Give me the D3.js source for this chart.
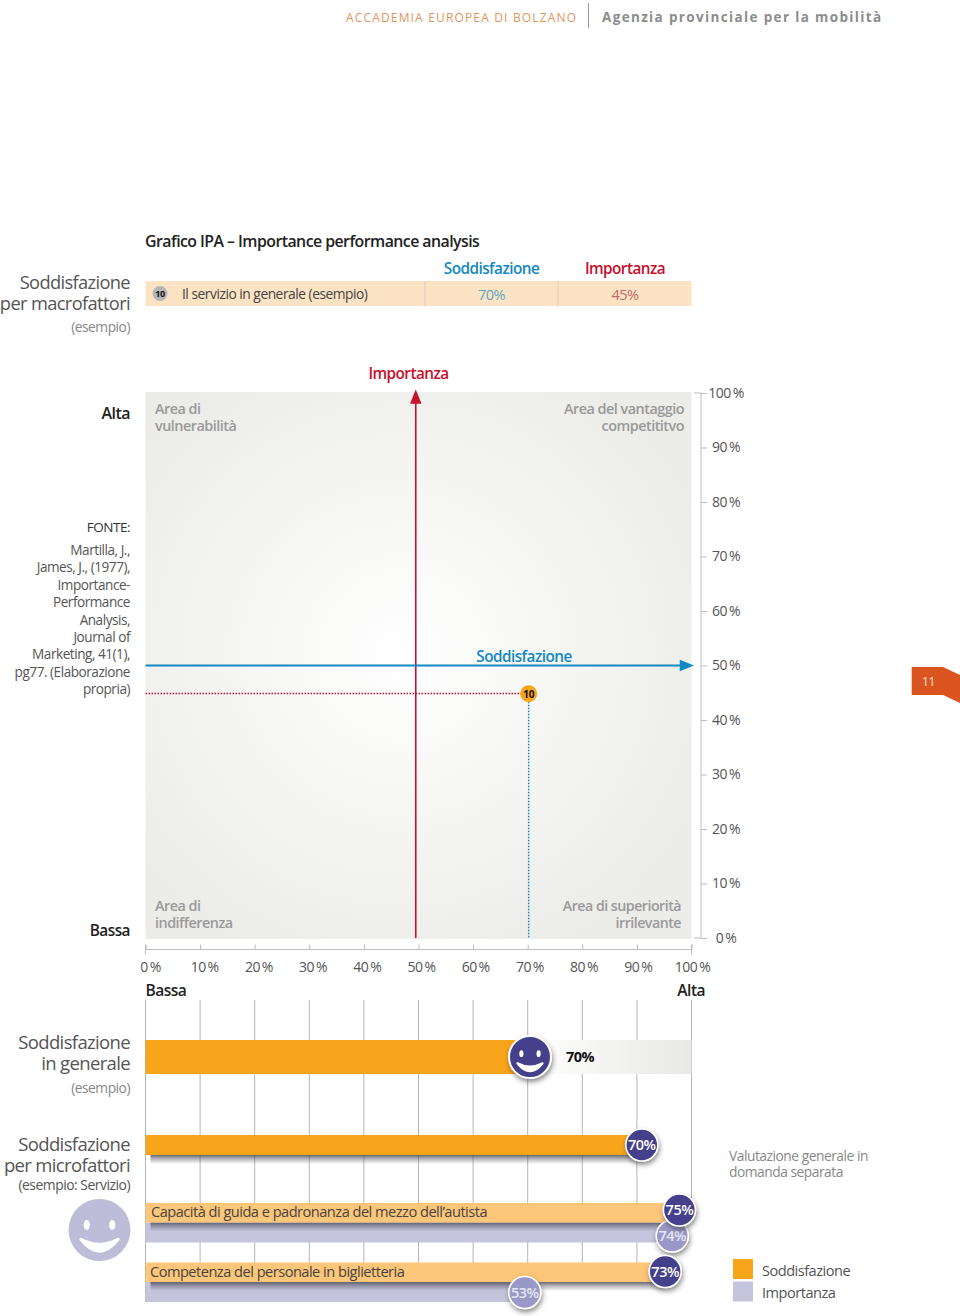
<!DOCTYPE html>
<html>
<head>
<meta charset="utf-8">
<script src="https://cdn.jsdelivr.net/npm/d3@7"></script>
<style>
  body { margin: 0; background: #fff; }
  svg { display: block; }
  text { font-family: "Open Sans", sans-serif; letter-spacing: -0.035em; }
  .axis path, .axis line { stroke: #bdbdbd; }
  .axis text { font-size: 14px; fill: #555; font-family: "Open Sans", sans-serif; }
</style>
</head>
<body>
<script>
// values
var axisTicks = [0, 10, 20, 30, 40, 50, 60, 70, 80, 90, 100];
var factorNames = ["Il servizio in generale (esempio)"];
var factorIds = [10];
var satisfaction = [70];
var importance = [45];
var thresholdSatisfaction = 49.5;
var thresholdImportance = 50;
var overallValue = [70];
var microLabels = ["Capacità di guida e padronanza del mezzo dell’autista", "Competenza del personale in biglietteria"];
var microSatisfaction = [75, 73];
var microImportance = [74, 53];
var separateValue = [70];
var legendNames = ["Soddisfazione", "Importanza"];
var sourceLines = ["Martilla, J.,", "James, J., (1977),", "Importance-", "Performance", "Analysis,", "Journal of", "Marketing, 41(1),", "pg77. (Elaborazione", "propria)"];

var width = 960, height = 1316;
var colOrange = "#f9a51b", colLightOrange = "#fec679", colLilac = "#c5c4dd",
    colNavy = "#443f8c", colLilacDark = "#9a98c8", colRed = "#c8102e", colBlue = "#1288c4";

var svg = d3.select("body").append("svg")
    .attr("width", width)
    .attr("height", height);

var defs = svg.append("defs");

var shadow = defs.append("filter").attr("id", "ds")
    .attr("x", "-30%").attr("y", "-30%").attr("width", "170%").attr("height", "170%");
shadow.append("feDropShadow")
    .attr("dx", 1).attr("dy", 3).attr("stdDeviation", 2.5)
    .attr("flood-color", "#333").attr("flood-opacity", 0.55);

var plotGrad = defs.append("radialGradient").attr("id", "plotBg")
    .attr("cx", "47%").attr("cy", "48%").attr("r", "60%");
plotGrad.append("stop").attr("offset", "0%").attr("stop-color", "#ffffff");
plotGrad.append("stop").attr("offset", "100%").attr("stop-color", "#ecece9");

var restGrad = defs.append("linearGradient").attr("id", "restBg");
restGrad.append("stop").attr("offset", "0%").attr("stop-color", "#ffffff");
restGrad.append("stop").attr("offset", "100%").attr("stop-color", "#e8e8e5");

var barShadow = defs.append("linearGradient").attr("id", "barShadow")
    .attr("x1", 0).attr("y1", 0).attr("x2", 0).attr("y2", 1);
barShadow.append("stop").attr("offset", "0%").attr("stop-color", "#50505c").attr("stop-opacity", 0.85);
barShadow.append("stop").attr("offset", "45%").attr("stop-color", "#50505c").attr("stop-opacity", 0.4);
barShadow.append("stop").attr("offset", "100%").attr("stop-color", "#50505c").attr("stop-opacity", 0);

// scales
var x = d3.scaleLinear().domain([0, 100]).range([145.5, 691.5]);
var y = d3.scaleLinear().domain([0, 100]).range([938, 393]);
// the lower bars are stretched in the original, 100% would fall off the grid
var xMicro = d3.scaleLinear().domain([0, 76.7]).range([145.5, 691.5]);

function label(txt, px, py, size, color, anchor, weight) {
    return svg.append("text")
        .attr("x", px).attr("y", py)
        .attr("font-size", size)
        .attr("fill", color)
        .attr("text-anchor", anchor || "start")
        .attr("font-weight", weight || 400)
        .text(txt);
}

// several lines in one text element
function block(rows, px, py, pitch, size, color, anchor, weight) {
    var t = label(null, px, py, size, color, anchor, weight);
    rows.forEach(function (d, i) {
        t.append("tspan").attr("x", px).attr("y", py + i * pitch).text(d);
    });
    return t;
}

function smiley(cx, cy, r, fill, face, stroke) {
    var g = svg.append("g").attr("transform", "translate(" + cx + "," + cy + ")");
    g.append("circle").attr("r", r).attr("fill", fill)
        .attr("stroke", stroke || "none").attr("stroke-width", 2)
        .attr("filter", stroke ? "url(#ds)" : null);
    [-1, 1].forEach(function (s) {
        g.append("ellipse").attr("cx", s * r * 0.41).attr("cy", -r * 0.16)
            .attr("rx", r * 0.1).attr("ry", r * 0.16).attr("fill", face);
    });
    g.append("path")
        .attr("d", "M" + (-r * 0.6) + "," + (r * 0.3)
            + "Q0," + (r * 0.62) + " " + (r * 0.6) + "," + (r * 0.3)
            + "Q0," + (r * 1.06) + " " + (-r * 0.6) + "," + (r * 0.3) + "Z")
        .attr("fill", face)
        .attr("stroke", face).attr("stroke-width", r * 0.1).attr("stroke-linejoin", "round");
}

function badge(cx, cy, r, fill, txt, color) {
    svg.append("circle").attr("cx", cx).attr("cy", cy).attr("r", r)
        .attr("fill", fill).attr("stroke", "#fff").attr("stroke-width", 1.6)
        .attr("filter", "url(#ds)");
    label(txt, cx, cy + 5, 14.5, color, "middle", 600);
}

// header
label("ACCADEMIA EUROPEA DI BOLZANO", 346, 22, 12, "#e0955f").style("letter-spacing", "0.097em");
svg.append("line").attr("x1", 588.5).attr("x2", 588.5).attr("y1", 3).attr("y2", 28)
    .attr("stroke", "#999");
label("Agenzia provinciale per la mobilità", 602, 22, 13.5, "#8c8c8c", "start", 700).style("letter-spacing", "0.1em");

// page tab
svg.append("path").attr("d", "M911.7,667H943L960,675V703L943,695H911.7Z").attr("fill", "#d9541e");
label("11", 922, 686, 12, "#fbe3d3");

// table
label("Grafico IPA – Importance performance analysis", 145, 247, 15.9, "#222", "start", 600);
label("Soddisfazione", 491.5, 274, 15.3, colBlue, "middle", 600);
label("Importanza", 625, 274, 15.3, colRed, "middle", 600);
svg.selectAll(".strip").data(factorNames).enter().append("rect")
    .attr("class", "strip")
    .attr("x", x(0)).attr("y", 281).attr("width", x(100) - x(0)).attr("height", 25)
    .attr("fill", "#fce3c3");
[425, 558].forEach(function (d) {
    svg.append("line").attr("x1", d).attr("x2", d).attr("y1", 281).attr("y2", 306).attr("stroke", "#d8cdbd");
});
svg.append("circle").attr("cx", 160).attr("cy", 293.5).attr("r", 7.5).attr("fill", "#b5b5b5");
label(factorIds[0], 160, 297, 9, "#111", "middle", 700);
label(factorNames[0], 182, 299, 13.8, "#444");
label(satisfaction[0] + "%", 491.5, 300, 14.5, "#5ba7c4", "middle");
label(importance[0] + "%", 625, 300, 14.5, "#c4686e", "middle");

// left labels
block(["Soddisfazione", "per macrofattori"], 130, 289, 21, 18.3, "#555", "end");
label("(esempio)", 130, 332, 13.8, "#888", "end");
label("Alta", 130, 419, 16, "#222", "end", 600);
label("Bassa", 130, 936, 15.4, "#222", "end", 600);
label("FONTE:", 130, 532, 13.5, "#333", "end");
block(sourceLines, 130, 555, 17.4, 13.6, "#555", "end");

// IPA plot
svg.append("rect").attr("x", x(0)).attr("y", y(100) - 1)
    .attr("width", x(100) - x(0)).attr("height", y(0) - y(100) + 2)
    .attr("fill", "url(#plotBg)");

block(["Area di", "vulnerabilità"], 155, 414, 17, 14.4, "#999", "start", 600);
block(["Area del vantaggio", "competititvo"], 684, 414, 17, 14.4, "#999", "end", 600);
block(["Area di", "indifferenza"], 155, 911, 17, 14.4, "#999", "start", 600);
block(["Area di superiorità", "irrilevante"], 681, 911, 17, 14.2, "#999", "end", 600);

// threshold arrows
svg.append("line")
    .attr("x1", x(thresholdSatisfaction)).attr("x2", x(thresholdSatisfaction))
    .attr("y1", y(0)).attr("y2", y(100) + 8)
    .attr("stroke", colRed).attr("stroke-width", 1.6);
svg.append("path")
    .attr("d", d3.symbol().type(d3.symbolTriangle).size(70))
    .attr("transform", "translate(" + x(thresholdSatisfaction) + "," + (y(100) + 6) + ") scale(0.9,1.3)")
    .attr("fill", colRed);
svg.append("line")
    .attr("x1", x(0)).attr("x2", x(100) - 8)
    .attr("y1", y(thresholdImportance)).attr("y2", y(thresholdImportance))
    .attr("stroke", colBlue).attr("stroke-width", 2);
svg.append("path")
    .attr("d", d3.symbol().type(d3.symbolTriangle).size(70))
    .attr("transform", "translate(" + (x(100) - 7) + "," + y(thresholdImportance) + ") rotate(90) scale(0.9,1.3)")
    .attr("fill", colBlue);
label("Importanza", 408.5, 379, 15.3, colRed, "middle", 600);
label("Soddisfazione", 524, 662, 15.3, colBlue, "middle", 600);

// the point with its dotted guides
svg.selectAll(".guideH").data(importance).enter().append("line")
    .attr("class", "guideH")
    .attr("x1", x(0)).attr("x2", x(satisfaction[0]))
    .attr("y1", function (d) { return y(d) + 0.7; }).attr("y2", function (d) { return y(d) + 0.7; })
    .attr("stroke", colRed).attr("stroke-width", 1.5).attr("stroke-dasharray", "1.5 1.5");
svg.selectAll(".guideV").data(satisfaction).enter().append("line")
    .attr("class", "guideV")
    .attr("x1", function (d) { return x(d) + 1; }).attr("x2", function (d) { return x(d) + 1; })
    .attr("y1", y(importance[0])).attr("y2", y(0))
    .attr("stroke", colBlue).attr("stroke-width", 1.5).attr("stroke-dasharray", "1.5 1.5");
svg.selectAll(".point").data(satisfaction).enter().append("circle")
    .attr("class", "point")
    .attr("cx", function (d) { return x(d) + 1; })
    .attr("cy", function (d, i) { return y(importance[i]) + 1; })
    .attr("r", 8.5).attr("fill", colOrange);
label(factorIds[0], x(satisfaction[0]) + 1, y(importance[0]) + 5, 10, "#111", "middle", 700);

// axes
var pct = function (d) { return d + "\u2009%"; };
var yAxis = svg.append("g").attr("class", "axis")
    .attr("transform", "translate(701,0)")
    .call(d3.axisRight(y).tickValues(axisTicks).tickSize(6).tickFormat(pct));
yAxis.select(".domain").attr("d", "M-7," + y(100) + "H0V" + y(0) + "H-7");
yAxis.selectAll("text").attr("x", 25).attr("text-anchor", "middle");

var xAxis = svg.append("g").attr("class", "axis")
    .attr("transform", "translate(0,949.5)")
    .call(d3.axisTop(x).tickValues(axisTicks).tickSize(5).tickFormat(""));
xAxis.select(".domain").attr("d", "M" + x(0) + ",-5V5M" + x(0) + ",0H" + x(100) + "M" + x(100) + ",-5V5");
svg.selectAll(".xlab").data(axisTicks).enter().append("text")
    .attr("class", "xlab")
    .attr("x", function (d) { return x(d) + 5 - d / 10 * 0.4; })
    .attr("y", 972)
    .attr("text-anchor", "middle")
    .attr("font-size", 14).attr("fill", "#555")
    .text(pct);
label("Bassa", 145.5, 996, 15.6, "#222", "start", 600);
label("Alta", 705, 996, 15.6, "#222", "end", 600);

// grid behind the bars
svg.selectAll(".grid").data(axisTicks).enter().append("line")
    .attr("class", "grid")
    .attr("x1", function (d) { return x(d); }).attr("x2", function (d) { return x(d); })
    .attr("y1", 1000)
    .attr("y2", function (d) { return d === 0 ? 1302 : d === 100 ? 1200 : 1264; })
    .attr("stroke", "#b5b5b5").attr("stroke-width", 1);

// overall satisfaction
block(["Soddisfazione", "in generale"], 130, 1049, 21, 18.5, "#555", "end");
label("(esempio)", 130, 1093, 13.8, "#888", "end");
svg.selectAll(".overall").data(overallValue).enter().append("g").each(function (d) {
    var g = d3.select(this);
    g.append("rect").attr("x", x(d)).attr("y", 1040).attr("width", x(100) - x(d)).attr("height", 34).attr("fill", "url(#restBg)");
    g.append("rect").attr("x", x(0)).attr("y", 1040).attr("width", x(d) - x(0)).attr("height", 34).attr("fill", colOrange);
});
smiley(x(overallValue[0]) + 2.3, 1057, 21, colNavy, "#fff", "#fff");
label(overallValue[0] + "%", 566, 1062, 14.5, "#111", "start", 700);

// micro factors
block(["Soddisfazione", "per microfattori"], 130, 1151, 21, 18.5, "#555", "end");
label("(esempio: Servizio)", 130, 1190, 13.9, "#555", "end");
smiley(99.5, 1230, 31, "#bdbcd9", "#fff");

function barTop(i) { return 1203 + i * 59.5; }

svg.selectAll(".impBar").data(microImportance).enter().append("rect")
    .attr("class", "impBar")
    .attr("x", x(0))
    .attr("y", function (d, i) { return barTop(i) + 19.5; })
    .attr("width", function (d) { return xMicro(d) - x(0); })
    .attr("height", 20)
    .attr("fill", colLilac);

svg.selectAll(".shadow").data(microSatisfaction.concat(separateValue)).enter().append("rect")
    .attr("class", "shadow")
    .attr("x", x(0) + 5)
    .attr("y", function (d, i) { return i < 2 ? barTop(i) + 19.5 : 1155; })
    .attr("width", function (d) { return xMicro(d) - x(0) - 5; })
    .attr("height", 9)
    .attr("fill", "url(#barShadow)");

svg.selectAll(".sepBar").data(separateValue).enter().append("rect")
    .attr("class", "sepBar")
    .attr("x", x(0)).attr("y", 1135)
    .attr("width", function (d) { return xMicro(d) - x(0); })
    .attr("height", 20)
    .attr("fill", colOrange);
svg.selectAll(".satBar").data(microSatisfaction).enter().append("rect")
    .attr("class", "satBar")
    .attr("x", x(0))
    .attr("y", function (d, i) { return barTop(i); })
    .attr("width", function (d) { return xMicro(d) - x(0); })
    .attr("height", 19.5)
    .attr("fill", colLightOrange);

microLabels.forEach(function (d, i) {
    label(d, 151 - i, barTop(i) + 14, 14.6, "#444");
});

microImportance.forEach(function (d, i) {
    badge(xMicro(d) + (i ? 2 : 0), barTop(i) + 33 - i * 3, 16, colLilacDark, d + "%", "#e6e6f2");
});
microSatisfaction.forEach(function (d, i) {
    badge(xMicro(d), barTop(i) + 7 + i * 2, 16, colNavy, d + "%", "#fff");
});
badge(xMicro(separateValue[0]) - 2, 1145, 16, colNavy, separateValue[0] + "%", "#fff");

block(["Valutazione generale in", "domanda separata"], 729, 1161, 16, 13.8, "#888");

// legend
var legendColors = d3.scaleOrdinal().domain(legendNames).range([colOrange, colLilac]);
var legend = svg.selectAll(".legend").data(legendNames).enter().append("g")
    .attr("class", "legend")
    .attr("transform", function (d, i) { return "translate(733," + (1259 + i * 22.5) + ")"; });
legend.append("rect").attr("width", 20).attr("height", 20).attr("fill", legendColors);
legend.append("text").attr("x", 29).attr("y", 16.5)
    .attr("font-size", 14.6).attr("fill", "#555")
    .text(function (d) { return d; });
</script>
</body>
</html>
